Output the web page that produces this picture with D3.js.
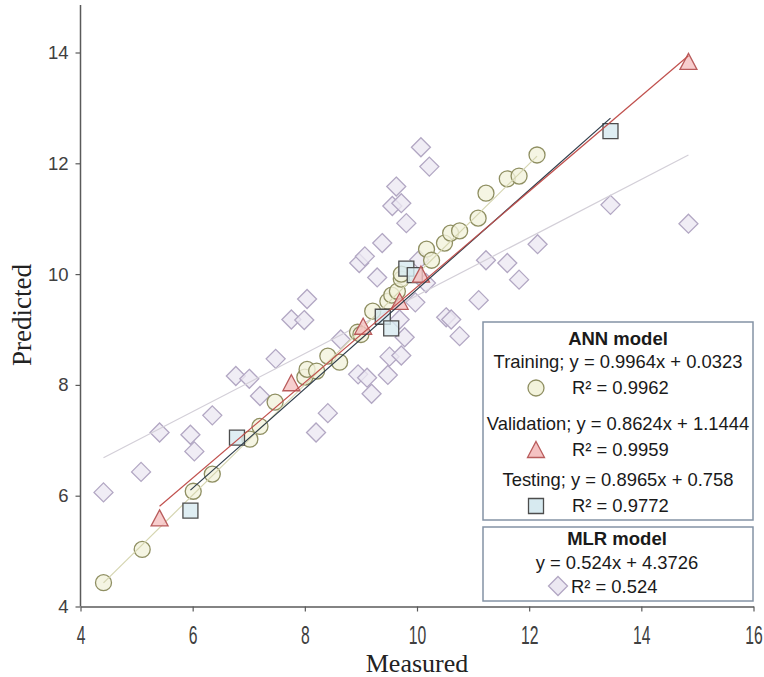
<!DOCTYPE html>
<html>
<head>
<meta charset="utf-8">
<script src="https://cdn.jsdelivr.net/npm/d3@7"></script>
<style>
  body { margin: 0; background: #fff; }
  svg { display: block; }
</style>
</head>
<body>
<svg id="chart_svg" width="764" height="677"></svg>
<script>
// ---- data ----
var TRAIN_X = [4.41, 5.10, 6.01, 6.35, 7.02, 7.20, 7.47, 8.00, 8.04, 8.21, 8.41, 8.62, 8.94, 9.00, 9.21, 9.48, 9.55, 9.65, 9.72, 9.72, 10.17, 10.26, 10.49, 10.60, 10.76, 11.09, 11.23, 11.61, 11.82, 12.14];
var TRAIN_Y = [4.43, 5.03, 6.08, 6.39, 7.02, 7.25, 7.69, 8.14, 8.28, 8.25, 8.52, 8.41, 8.95, 8.91, 9.33, 9.51, 9.62, 9.69, 9.91, 10.00, 10.45, 10.25, 10.56, 10.74, 10.78, 11.01, 11.46, 11.72, 11.77, 12.15];

var VALID_X = [5.41, 7.76, 9.04, 9.69, 10.07, 14.84];
var VALID_Y = [5.59, 8.03, 9.05, 9.50, 9.99, 13.83];

var TEST_X = [5.96, 6.79, 9.39, 9.54, 9.81, 9.96, 13.45];
var TEST_Y = [5.73, 7.05, 9.23, 9.02, 10.10, 9.98, 12.58];

var MLR_X = [4.41, 5.08, 5.41, 5.96, 6.03, 6.35, 6.77, 7.01, 7.20, 7.48, 7.76, 7.99, 8.04, 8.20, 8.41, 8.64, 8.95, 9.11, 9.19, 9.48, 9.51, 9.72, 9.78, 9.69, 9.97, 10.16, 10.04, 9.29, 8.97, 9.07, 9.38, 9.81, 9.56, 9.72, 9.63, 10.07, 10.22, 10.52, 10.61, 10.76, 11.10, 11.23, 11.61, 11.82, 12.15, 13.45, 14.84];
var MLR_Y = [6.06, 6.43, 7.14, 7.10, 6.80, 7.45, 8.16, 8.11, 7.80, 8.47, 9.18, 9.17, 9.55, 7.14, 7.49, 8.82, 8.19, 8.13, 7.84, 8.18, 8.51, 8.53, 8.86, 9.18, 9.49, 9.84, 10.26, 9.94, 10.20, 10.32, 10.56, 10.92, 11.23, 11.28, 11.58, 12.29, 11.94, 9.22, 9.18, 8.88, 9.53, 10.25, 10.20, 9.90, 10.54, 11.25, 10.91];

// trend line coefficients as printed in the legend
var SERIES_NAMES = ['Training', 'Validation', 'Testing', 'MLR'];
var SLOPES = [0.9964, 0.8624, 0.8965, 0.524];
var INTERCEPTS = [0.0323, 1.1444, 0.758, 4.3726];
var R2 = ['0.9962', '0.9959', '0.9772', '0.524'];

var X_TICKS = [4, 6, 8, 10, 12, 14, 16];
var Y_TICKS = [4, 6, 8, 10, 12, 14];

// ---- styles ----
var STYLE = {
    Training:   {fill: '#f3f3dc', stroke: '#8f8f62', line: '#d5d5b0'},
    Validation: {fill: '#f5c2c2', stroke: '#b95c5c', line: '#c0504d'},
    Testing:    {fill: '#d7eaf0', stroke: '#4d4d4d', line: '#2e3c4a'},
    MLR:        {fill: '#ece8f2', stroke: '#b2a7c3', line: '#d3cfd8'}
};

var svg = d3.select("#chart_svg");

var xScale = d3.scaleLinear().domain([4, 16]).range([80.5, 753.5]);
var yScale = d3.scaleLinear().domain([4, 14]).range([606.5, 52.5]);

// custom marker shapes (Excel style)
var TRI = {draw: function(ctx, size) {
    var w = Math.sqrt(size);
    ctx.moveTo(0, -w / 2);
    ctx.lineTo(w / 2, w / 2 - 1);
    ctx.lineTo(-w / 2, w / 2 - 1);
    ctx.closePath();
}};
var DIA = {draw: function(ctx, size) {
    var r = Math.sqrt(size) / 2;
    ctx.moveTo(0, -r);
    ctx.lineTo(r, 0);
    ctx.lineTo(0, r);
    ctx.lineTo(-r, 0);
    ctx.closePath();
}};

var SHAPES = {
    Training:   d3.symbol().type(d3.symbolCircle).size(Math.PI * 8 * 8),
    Validation: d3.symbol().type(TRI).size(17 * 17),
    Testing:    d3.symbol().type(d3.symbolSquare).size(15 * 15),
    MLR:        d3.symbol().type(DIA).size(19 * 19)
};

function zipPoints(xs, ys) {
    return xs.map(function(x, i) { return {x: x, y: ys[i]}; });
}

function drawAxes() {
    var xAxis = d3.axisBottom(xScale).tickValues(X_TICKS).tickSize(5).tickSizeOuter(0);
    var gx = svg.append("g")
        .attr("transform", "translate(0," + yScale(4) + ")")
        .call(xAxis);
    gx.select(".domain").attr("stroke", "#5a5a5a").attr("stroke-width", 1.5);
    gx.selectAll(".tick line").attr("stroke", "#5a5a5a").attr("stroke-width", 1.2);
    // tick labels are tall and narrow in the original
    gx.selectAll(".tick text")
        .attr("y", 0).attr("dy", 0)
        .attr("transform", "translate(0,37) scale(0.85,1.38)")
        .style("font-family", "'Liberation Sans', Arial, sans-serif")
        .style("font-size", "18.5px")
        .attr("fill", "#404040");

    var yAxis = d3.axisLeft(yScale).tickValues(Y_TICKS).tickSize(5).tickSizeOuter(0);
    var gy = svg.append("g")
        .attr("transform", "translate(" + xScale(4) + ",0)")
        .call(yAxis);
    gy.select(".domain").remove();
    gy.append("line")
        .attr("x1", 0).attr("x2", 0)
        .attr("y1", yScale(4)).attr("y2", 5)
        .attr("stroke", "#5a5a5a").attr("stroke-width", 1.5);
    gy.selectAll(".tick line").attr("stroke", "#5a5a5a").attr("stroke-width", 1.2);
    gy.selectAll(".tick text")
        .attr("x", -12)
        .style("font-family", "'Liberation Sans', Arial, sans-serif")
        .style("font-size", "18.5px")
        .attr("fill", "#404040");

    // axis titles
    svg.append("text")
        .attr("x", xScale(10)).attr("y", 672)
        .attr("text-anchor", "middle")
        .style("font-family", "'Liberation Serif', 'Times New Roman', serif")
        .style("font-size", "26px")
        .attr("fill", "#222")
        .text("Measured");

    svg.append("text")
        .attr("transform", "translate(31,315) rotate(-90)")
        .attr("text-anchor", "middle")
        .style("font-family", "'Liberation Serif', 'Times New Roman', serif")
        .style("font-size", "27px")
        .attr("fill", "#222")
        .text("Predicted");
}

function drawSeries(name, pts) {
    var st = STYLE[name];
    svg.append("g")
        .selectAll("path")
        .data(pts)
        .enter()
        .append("path")
        .attr("d", SHAPES[name])
        .attr("transform", function(d) { return "translate(" + xScale(d.x) + "," + yScale(d.y) + ")"; })
        .attr("fill", st.fill)
        .attr("fill-opacity", 0.8)
        .attr("stroke", st.stroke)
        .attr("stroke-width", 1.3);
}

function drawTrend(idx, xs) {
    var name = SERIES_NAMES[idx];
    var x0 = d3.min(xs), x1 = d3.max(xs);
    var f = function(x) { return SLOPES[idx] * x + INTERCEPTS[idx]; };
    svg.append("line")
        .attr("x1", xScale(x0)).attr("y1", yScale(f(x0)))
        .attr("x2", xScale(x1)).attr("y2", yScale(f(x1)))
        .attr("stroke", STYLE[name].line)
        .attr("stroke-width", 1.2);
}

function legendText(x, y, txt, anchor, bold) {
    svg.append("text")
        .attr("x", x).attr("y", y)
        .attr("text-anchor", anchor)
        .style("font-family", "'Liberation Sans', Arial, sans-serif")
        .style("font-size", bold ? "18.5px" : "18.4px")
        .style("font-weight", bold ? "bold" : "normal")
        .attr("fill", "#1a1a1a")
        .text(txt);
}

function legendMarker(name, x, y) {
    svg.append("path")
        .attr("d", SHAPES[name])
        .attr("transform", "translate(" + x + "," + y + ")")
        .attr("fill", STYLE[name].fill)
        .attr("stroke", STYLE[name].stroke)
        .attr("stroke-width", 1.3);
}

function eqText(i) {
    var sign = INTERCEPTS[i] < 0 ? " - " : " + ";
    return "y = " + SLOPES[i] + "x" + sign + Math.abs(INTERCEPTS[i]);
}

function drawLegend() {
    svg.append("rect")
        .attr("x", 483).attr("y", 322).attr("width", 270).attr("height", 198)
        .attr("fill", "#fff").attr("stroke", "#8493a5").attr("stroke-width", 1.5);
    svg.append("rect")
        .attr("x", 483).attr("y", 527).attr("width", 270).attr("height", 74)
        .attr("fill", "#fff").attr("stroke", "#8493a5").attr("stroke-width", 1.5);

    legendText(618, 345, "ANN model", "middle", true);

    var rows = [368, 430, 486];
    for (var i = 0; i < 3; i++) {
        legendText(618, rows[i], SERIES_NAMES[i] + "; " + eqText(i), "middle", false);
        legendMarker(SERIES_NAMES[i], 536, rows[i] + 20);
        legendText(572, rows[i] + 26, "R\u00b2 = " + R2[i], "start", false);
    }

    legendText(617, 545, "MLR model", "middle", true);
    legendText(617, 569, eqText(3), "middle", false);
    legendMarker("MLR", 558, 586);
    legendText(571, 593, "R\u00b2 = " + R2[3], "start", false);
}

drawAxes();
drawSeries("MLR", zipPoints(MLR_X, MLR_Y));
drawTrend(3, MLR_X);
drawSeries("Training", zipPoints(TRAIN_X, TRAIN_Y));
drawTrend(0, TRAIN_X);
drawSeries("Testing", zipPoints(TEST_X, TEST_Y));
drawSeries("Validation", zipPoints(VALID_X, VALID_Y));
drawTrend(2, TEST_X);
drawTrend(1, VALID_X);
drawLegend();
</script>
</body>
</html>
